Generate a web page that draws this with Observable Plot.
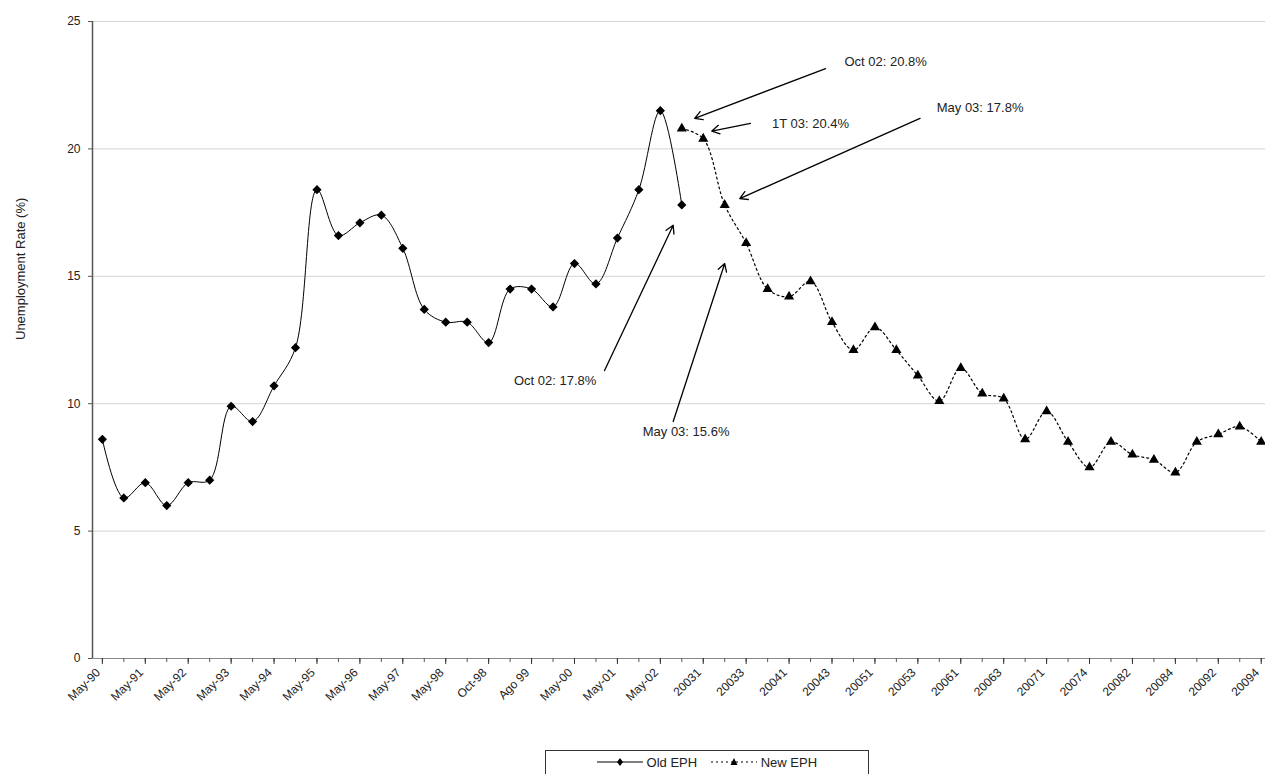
<!DOCTYPE html>
<html><head><meta charset="utf-8">
<script src="https://cdn.jsdelivr.net/npm/d3@7"></script>
<script src="https://cdn.jsdelivr.net/npm/@observablehq/plot@0.6"></script>
<style>
body{margin:0;background:#fff;font-family:"Liberation Sans",Arial,sans-serif;}
#legend{position:absolute;left:545px;top:750px;width:324px;height:24px;border:1px solid #333;border-bottom:none;box-sizing:border-box;font-size:13px;color:#222;display:flex;align-items:center;justify-content:center;gap:14px;}
</style></head><body>
<div id="chart"></div>
<div id="legend">
<span><svg width="46" height="10"><line x1="0" y1="5" x2="46" y2="5" stroke="#000"/><path d="M23 1L26 5L23 9L20 5Z" fill="#000"/></svg> Old EPH</span>
<span><svg width="46" height="10"><line x1="0" y1="5" x2="46" y2="5" stroke="#000" stroke-dasharray="2,3"/><path d="M23 1L26.5 8L19.5 8Z" fill="#000"/></svg> New EPH</span>
</div>
<script>
const tickLabels = ["May-90","May-91","May-92","May-93","May-94","May-95","May-96","May-97","May-98","Oct-98","Ago 99","May-00","May-01","May-02",
 "20031","20033","20041","20043","20051","20053","20061","20063","20071","20074","20082","20084","20092","20094"];
const oldEPH = [8.6,6.3,6.9,6.0,6.9,7.0,9.9,9.3,10.7,12.2,18.4,16.6,17.1,17.4,16.1,13.7,13.2,13.2,12.4,14.5,14.5,13.8,15.5,14.7,16.5,18.4,21.5,17.8];
const newEPH = [20.8,20.4,17.8,16.3,14.5,14.2,14.8,13.2,12.1,13.0,12.1,11.1,10.1,11.4,10.4,10.2,8.6,9.7,8.5,7.5,8.5,8.0,7.8,7.3,8.5,8.8,9.1,8.5];
const newStart = 27;
const yTicks = [0,5,10,15,20,25];
// annotations: text, text position (index,value), arrow tail, arrow head
const annText = ["Oct 02: 20.8%","1T 03: 20.4%","May 03: 17.8%","Oct 02: 17.8%","May 03: 15.6%"];
const annTx = [36.5,33.0,40.9,21.1,27.2];
const annTy = [23.4,21.0,21.6,10.9,8.9];
const annAx = [33.7,30.2,38.1,23.4,26.6];
const annAy = [23.15,21.0,21.2,11.3,9.3];
const annBx = [27.6,28.4,29.7,26.6,29.0];
const annBy = [21.2,20.7,18.05,17.0,15.5];

const oldData = oldEPH.map((v,i)=>({i, v}));
const newData = newEPH.map((v,i)=>({i:i+newStart, v}));
const ann = annText.map((t,k)=>({t, tx:annTx[k], ty:annTy[k], ax:annAx[k], ay:annAy[k], bx:annBx[k], by:annBy[k]}));
const tickIdx = tickLabels.map((_,k)=>2*k);
const x0 = -0.46;

const chart = Plot.plot({
  width:1265, height:740,
  marginLeft:92, marginRight:0, marginTop:21, marginBottom:82,
  style:{fontFamily:"Liberation Sans, Arial, sans-serif", fontSize:"12px", color:"#222"},
  x:{type:"linear", domain:[x0,54.2], axis:null},
  y:{type:"linear", domain:[0,25], axis:null},
  marks:[
    Plot.ruleY(yTicks.slice(1),{stroke:"#d4d4d4"}),
    Plot.ruleY([0],{stroke:"#888"}),
    Plot.ruleX([x0],{stroke:"#555", strokeWidth:1.5}),
    Plot.ruleY(yTicks,{x1:x0, x2:x0, stroke:"#555", insetLeft:-4}),
    Plot.text(yTicks,{x:x0, y:d=>d, text:d=>String(d), dx:-12, textAnchor:"end", fill:"#222"}),
    Plot.text(["Unemployment Rate (%)"],{frameAnchor:"left", dx:-72, rotate:-90, fontSize:13, fill:"#222"}),
    Plot.ruleX(d3.range(0,55),{y1:0, y2:0, insetBottom:-4, stroke:"#555"}),
    Plot.ruleX(tickIdx,{y1:0, y2:0, insetBottom:-6, stroke:"#333"}),
    Plot.text(tickLabels,{x:(d,k)=>tickIdx[k], y:()=>0, text:d=>d, rotate:-45, textAnchor:"end", dy:12, dx:-4, fill:"#222", fontSize:12}),
    Plot.line(oldData,{x:"i", y:"v", curve:"catmull-rom", stroke:"#000", strokeWidth:1}),
    Plot.line(newData,{x:"i", y:"v", curve:"catmull-rom", stroke:"#000", strokeWidth:1.2, strokeDasharray:"2,3"}),
    Plot.dot(oldData,{x:"i", y:"v", symbol:"diamond2", r:3.2, fill:"#000", stroke:"#000"}),
    Plot.dot(newData,{x:"i", y:"v", symbol:"triangle2", r:3.6, fill:"#000", stroke:"#000"}),
    Plot.arrow(ann,{x1:"ax", y1:"ay", x2:"bx", y2:"by", stroke:"#000", strokeWidth:1.3, headLength:10}),
    Plot.text(ann,{x:"tx", y:"ty", text:"t", fill:"#222", fontSize:13})
  ]
});
document.getElementById("chart").appendChild(chart);
</script></body></html>
